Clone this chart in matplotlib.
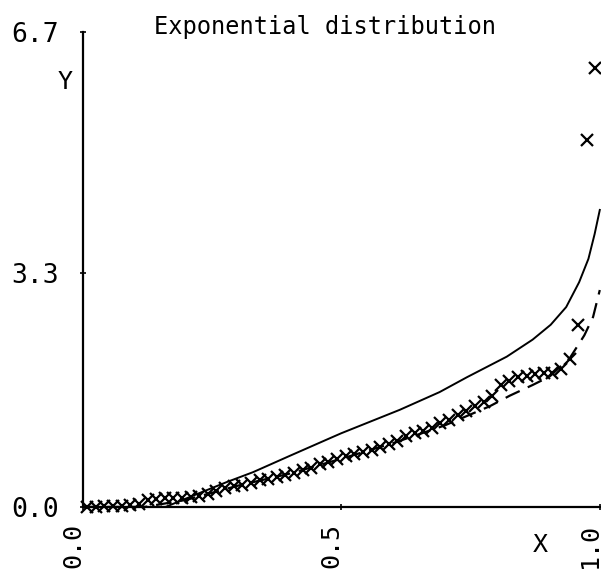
import matplotlib
matplotlib.use("Agg")
import matplotlib.pyplot as plt
from matplotlib.transforms import ScaledTranslation

# sorted sample, plotted against (i - 0.5) / n
sample_y = [0.00, 0.00, 0.01, 0.01, 0.02, 0.03, 0.04, 0.10, 0.11, 0.12,
            0.13, 0.13, 0.14, 0.15, 0.18, 0.22, 0.26, 0.29, 0.31, 0.34,
            0.38, 0.40, 0.42, 0.45, 0.48, 0.52, 0.55, 0.60, 0.64, 0.68,
            0.72, 0.75, 0.78, 0.81, 0.85, 0.89, 0.93, 1.00, 1.04, 1.07,
            1.12, 1.18, 1.23, 1.30, 1.35, 1.42, 1.48, 1.56, 1.72, 1.78,
            1.83, 1.84, 1.87, 1.89, 1.89, 1.94, 2.08, 2.57, 5.18, 6.19]
sample_x = [(i + 0.5) / len(sample_y) for i in range(len(sample_y))]

# solid curve
solid_x = [0.00, 0.16, 0.20, 0.278, 0.329, 0.40, 0.478, 0.50, 0.613, 0.69,
           0.743, 0.82, 0.87, 0.905, 0.935, 0.96, 0.978, 0.99, 1.00]
solid_y = [0.00, 0.00, 0.12, 0.35, 0.49, 0.72, 0.97, 1.04, 1.37, 1.62,
           1.83, 2.12, 2.36, 2.57, 2.82, 3.17, 3.50, 3.85, 4.19]

# dashed curve
dash_x = [0.00, 0.12, 0.20, 0.30, 0.40, 0.50, 0.60, 0.70, 0.787, 0.826,
          0.87, 0.903, 0.942, 0.97, 0.987, 1.00]
dash_y = [0.00, 0.00, 0.10, 0.30, 0.47, 0.68, 0.90, 1.15, 1.42, 1.57,
          1.72, 1.84, 2.10, 2.42, 2.68, 3.06]

yticks = [0.0, 3.3, 6.7]
ytick_labels = ["0.0", "3.3", "6.7"]
xticks = [0.0, 0.5, 1.0]
xtick_labels = ["0.0", "0.5", "1.0"]

plt.rcParams['font.family'] = ['DejaVu Sans Mono']

fig = plt.figure(figsize=(6.01, 5.82), dpi=100)
ax = fig.add_axes([0.138, 0.129, 0.860, 0.816])

ax.plot(solid_x, solid_y, color="black", lw=1.4, clip_on=False)
ax.plot(dash_x, dash_y, color="black", lw=1.6, dashes=(7, 4), clip_on=False)
ax.plot(sample_x, sample_y, ls="none", marker="x", ms=9, mew=1.6,
        color="black", clip_on=False)

ax.set_xlim(0, 1.0)
ax.set_ylim(0, 6.7)
for s in ["top", "right"]:
    ax.spines[s].set_visible(False)
for s in ["left", "bottom"]:
    ax.spines[s].set_linewidth(1.6)

ax.set_yticks(yticks)
ax.set_yticklabels(ytick_labels, fontsize=19)
ax.set_xticks(xticks)
ax.set_xticklabels(xtick_labels, fontsize=18, rotation=90)
ax.tick_params(axis="y", direction="inout", length=5, width=1.2, pad=15)
ax.tick_params(axis="x", direction="inout", length=5, width=1.2, pad=9)
for lab in ax.get_xticklabels():
    lab.set_transform(lab.get_transform()
                      + ScaledTranslation(-10 / 100, 0, fig.dpi_scale_trans))

fig.text(325 / 601, 1 - 27 / 582, "Exponential distribution", fontsize=17,
         ha="center", va="center")
fig.text(65 / 601, 1 - 82 / 582, "Y", fontsize=18, ha="center", va="center")
fig.text(540 / 601, 1 - 545 / 582, "X", fontsize=18, ha="center", va="center")

fig.savefig("out.png", dpi=100, facecolor="white")
